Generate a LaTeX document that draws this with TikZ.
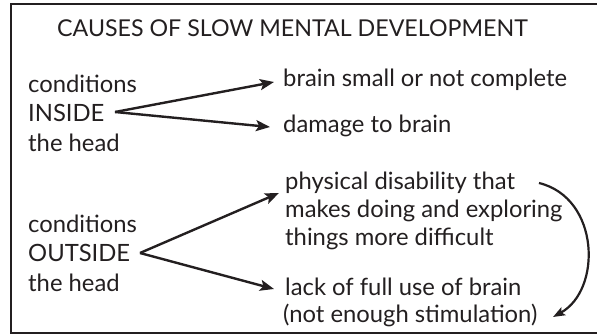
\documentclass[tikz,border=0pt]{standalone}
\usepackage{fontspec}
\setmainfont{Lato}
\usetikzlibrary{arrows.meta}
\definecolor{ink}{HTML}{231F20}
\tikzset{
  txt/.style={anchor=base west, inner sep=0pt, text=ink, font=\fontsize{23.8}{28}\selectfont},
  ttl/.style={anchor=base west, inner sep=0pt, text=ink, font=\fontsize{23.2}{27}\selectfont},
  arr/.style={draw=ink, line width=2.4pt, -{Stealth[length=14pt,width=11pt,inset=3pt]}},
  frame/.style={draw=ink, line width=2.4pt}
}
\begin{document}
\begin{tikzpicture}[x=1pt,y=-1pt]
\useasboundingbox (0,0) rectangle (597,336);
\begin{scope}
\clip (0,0) rectangle (597,336);
\draw[frame] (11,4) rectangle (610,333);
\end{scope}
\node[ttl] (title) at (57,37) {CAUSES OF SLOW MENTAL DEVELOPMENT};
% inside
\node[txt] (c1) at (28,93) {conditions};
\node[txt] (ins) at (28,122) {INSIDE};
\node[txt] (h1) at (28,152) {the head};
\node[txt] (brain) at (283,87) {brain small or not complete};
\node[txt] (damage) at (283,133) {damage to brain};
% outside
\node[txt] (c2) at (28,233) {conditions};
\node[txt] (outs) at (28,262) {OUTSIDE};
\node[txt] (h2) at (28,292) {the head};
\node[txt] (p1) at (285,190) {physical disability that};
\node[txt] (p2) at (285,218) {makes doing and exploring};
\node[txt] (p3) at (285,246) {things more difficult};
\node[txt] (l1) at (285,296) {lack of full use of brain};
\node[txt] (l2) at (283,323) {(not enough stimulation)};
% connectors
\coordinate (sIn) at (115,112);
\coordinate (sOut) at (140,253);
\coordinate (tBrain) at (274,82);
\coordinate (tDamage) at (270,127);
\coordinate (tPhys) at (279,193);
\coordinate (tLack) at (274,289);
\draw[arr] (sIn) -- (tBrain);
\draw[arr] (sIn) -- (tDamage);
\draw[arr] (sOut) -- (tPhys);
\draw[arr] (sOut) -- (tLack);
\coordinate (cs) at (539,183);
\coordinate (ce) at (553,317);
\draw[draw=ink, line width=2.2pt, -{Stealth[length=12pt,width=9pt,inset=2.5pt]}] (cs) .. controls (600,198) and (602,290) .. (ce);
\end{tikzpicture}
\end{document}
